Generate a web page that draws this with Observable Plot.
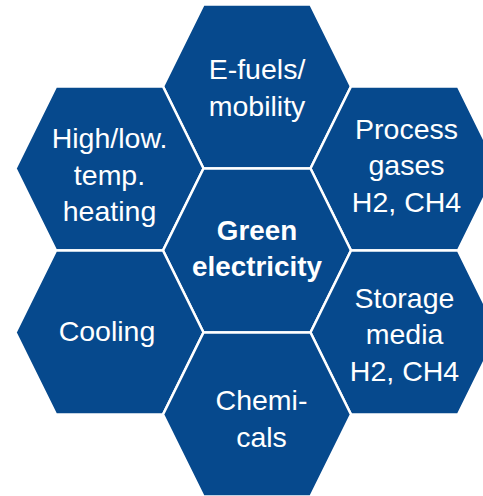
<!DOCTYPE html>
<html><head><meta charset="utf-8">
<script src="https://cdn.jsdelivr.net/npm/d3@7"></script>
<script src="https://cdn.jsdelivr.net/npm/@observablehq/plot@0.6"></script>
<style>html,body{margin:0;padding:0;overflow:hidden;background:#fff}</style>
</head><body><div id="chart"></div>
<script>
// Diagram content: one hexagon per label, placed on a hex grid (column, row in half-steps)
const labels = ["E-fuels/\nmobility", "High/low.\ntemp.\nheating", "Process\ngases\nH2, CH4", "Green\nelectricity", "Cooling", "Storage\nmedia\nH2, CH4", "Chemi-\ncals"];
const cols = [0, -1, 1, 0, -1, 1, 0];
const rows = [-2, -1, -1, 0, 1, 1, 2];
const emphasis = [false, false, false, true, false, false, false];

const hexes = labels.map((label, i) => ({label, col: cols[i], row: rows[i], bold: emphasis[i]}));

const BLUE = "#06498d";
const FONT = "'Liberation Sans', Arial, Helvetica, sans-serif";

// flat-top hexagon symbol (slightly steep sides, as in the reference)
const hexSymbol = {
  draw(ctx, size) {
    const h = Math.sqrt(size / Math.PI);
    const W = h * 94 / 82, a = h * 53.5 / 82;
    ctx.moveTo(W, 0);
    ctx.lineTo(a, -h);
    ctx.lineTo(-a, -h);
    ctx.lineTo(-W, 0);
    ctx.lineTo(-a, h);
    ctx.lineTo(a, h);
    ctx.closePath();
  }
};

// small per-label text nudges (dx, dy) in pixels
const nudge = [[0, -0.5], [0, 4.5], [2, -5], [0, -4], [-2.5, -3], [0, 0], [4.5, 2.5]];

const textMarks = hexes.map((d, i) => {
  const fs = d.bold ? 27.8 : 28.5;
  return Plot.text([d], {
    x: "col", y: "row", text: "label",
    fill: "white", fontSize: fs, lineHeight: 36.5 / fs,
    fontFamily: FONT, fontWeight: d.bold ? "bold" : "normal",
    dx: nudge[i][0], dy: nudge[i][1]
  });
});

const chart = Plot.plot({
  width: 483, height: 496, margin: 0,
  style: {background: "white", fontFamily: FONT},
  x: {domain: [-1, 1], range: [109, 404], axis: null},
  y: {domain: [-2, 2], range: [86, 414], axis: null},
  marks: [
    Plot.dot(hexes, {x: "col", y: "row", r: 82, symbol: hexSymbol, fill: BLUE, stroke: "white", strokeWidth: 2.5}),
    ...textMarks
  ]
});
document.getElementById("chart").appendChild(chart);
</script>
</body></html>
